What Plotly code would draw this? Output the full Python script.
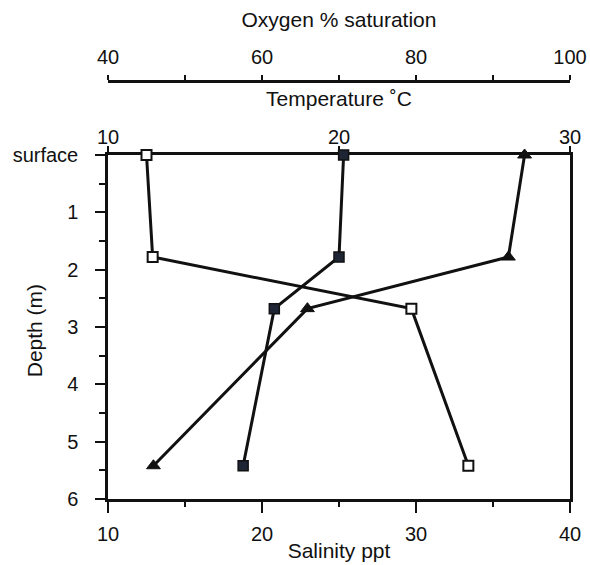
import plotly.graph_objects as go

# Data
depth = [0.0, 1.78, 2.68, 5.42]
salinity = [12.5, 12.9, 29.7, 33.4]        # ppt, open squares
temperature = [20.2, 20.0, 17.2, 15.85]    # deg C, filled squares
oxygen = [94.1, 92.0, 65.9, 45.9]          # % saturation, triangles

depth_ticks = [0, 1, 2, 3, 4, 5, 6]
depth_labels = ["surface", "1", "2", "3", "4", "5", "6"]
sal_ticks = [10, 20, 30, 40]
temp_ticks = [10, 20, 30]
oxy_ticks = [40, 60, 80, 100]

FONT = "Liberation Sans, Arial, Helvetica, sans-serif"
INK = "#111111"

fig = go.Figure()

fig.add_trace(go.Scatter(
    x=salinity, y=depth, xaxis="x", yaxis="y", mode="lines+markers",
    line=dict(color=INK, width=3),
    marker=dict(symbol="square", size=10, color="white", line=dict(color=INK, width=2)),
    cliponaxis=False, name="Salinity"))

fig.add_trace(go.Scatter(
    x=temperature, y=depth, xaxis="x2", yaxis="y", mode="lines+markers",
    line=dict(color=INK, width=3),
    marker=dict(symbol="square", size=10, color="#1e2535", line=dict(color=INK, width=1.5)),
    cliponaxis=False, name="Temperature"))

fig.add_trace(go.Scatter(
    x=oxygen, y=depth, xaxis="x3", yaxis="y", mode="lines+markers",
    line=dict(color=INK, width=3),
    marker=dict(symbol="triangle-up", size=12, color=INK, line=dict(color=INK, width=1)),
    cliponaxis=False, name="Oxygen"))

tickfont = dict(family=FONT, size=20, color=INK)
titlefont = dict(family=FONT, size=21, color=INK)

common = dict(showline=True, linecolor=INK, linewidth=2.5, showgrid=False,
              zeroline=False, ticks="outside", tickcolor=INK, tickwidth=2,
              tickfont=tickfont, automargin=False)

dom_top = 0.823

fig.update_layout(
    width=590, height=565,
    margin=dict(l=108, r=20, t=81, b=66, autoexpand=False),
    paper_bgcolor="white", plot_bgcolor="white",
    showlegend=False,
    font=dict(family=FONT, color=INK),
    xaxis=dict(range=[10, 40], tickvals=sal_ticks, ticklen=11, ticklabelstandoff=4,
               minor=dict(tickvals=[15, 25, 35], ticks="outside", ticklen=5,
                          tickcolor=INK, tickwidth=2),
               title=dict(text="Salinity ppt", font=titlefont, standoff=0),
               anchor="y", layer="below traces", **common),
    xaxis2=dict(range=[10, 30], tickvals=temp_ticks, ticklen=6, ticklabelstandoff=-6,
                overlaying="x", side="top", anchor="y",
                title=dict(text="Temperature ˚C", font=titlefont, standoff=14),
                layer="below traces", **common),
    xaxis3=dict(range=[40, 100], tickvals=oxy_ticks, ticklen=5, ticklabelstandoff=3,
                minor=dict(tickvals=[50, 70, 90], ticks="outside", ticklen=5,
                           tickcolor=INK, tickwidth=2),
                overlaying="x", side="top", anchor="free", position=1,
                title=dict(text="Oxygen % saturation", font=titlefont, standoff=11),
                layer="below traces", **common),
    yaxis=dict(range=[6, 0], domain=[0, dom_top], tickvals=depth_ticks,
               ticktext=depth_labels, ticklen=10, ticklabelstandoff=13,
               minor=dict(tickvals=[0.5, 1.5, 2.5, 3.5, 4.5, 5.5], ticks="outside",
                          ticklen=6, tickcolor=INK, tickwidth=2),
               mirror=True, layer="below traces", **common),
    annotations=[dict(text="Depth (m)", xref="paper", yref="paper",
                      x=-0.16, y=dom_top / 2 - 0.01, textangle=-90,
                      showarrow=False, font=titlefont,
                      xanchor="center", yanchor="middle")],
)

fig.write_html("out.html")
